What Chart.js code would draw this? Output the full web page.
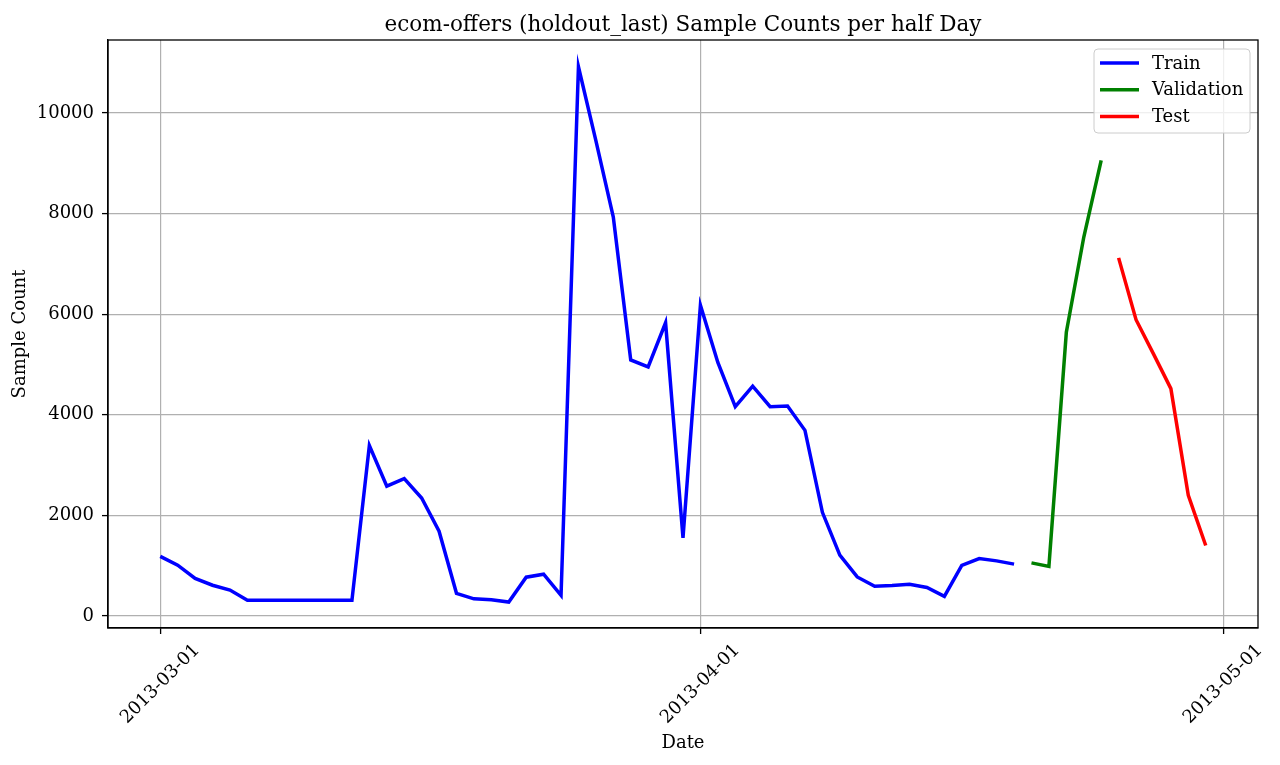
<!DOCTYPE html>
<html>
<head>
<meta charset="utf-8">
<script src="https://cdn.jsdelivr.net/npm/chart.js@4.4.0/dist/chart.umd.min.js"></script>
<style>
  html, body { margin: 0; padding: 0; background: #fff; }
  #grafico { display: block; }
</style>
</head>
<body>
<canvas id="grafico" width="1280" height="765"></canvas>
<script>
// Datos (un punto por día)
const titulo = 'ecom-offers (holdout_last) Sample Counts per half Day';
const fechaBase = '2013-03-01';

const inicioTrain = '2013-03-01';
const valoresTrain = [
  1185, 1010, 745, 610, 515, 310, 310, 310, 310, 310, 310, 310,
  3390, 2580, 2730, 2345, 1685, 450, 340, 320, 275, 770, 830, 410,
  10920, 9450, 7930, 5090, 4950, 5830, 1550,
  6180, 5040, 4160, 4570, 4160, 4175, 3690, 2060, 1210, 775, 590,
  605, 630, 565, 390, 1005, 1140, 1095, 1030
];

const inicioValidation = '2013-04-20';
const valoresValidation = [1055, 985, 5640, 7530, 9060];

const inicioTest = '2013-04-25';
const valoresTest = [7120, 5890, 5210, 4520, 2400, 1400];

const etiquetasX = ['2013-03-01', '2013-04-01', '2013-05-01'];
const ticksY = [0, 2000, 4000, 6000, 8000, 10000];

const series = [
  { nombre: 'Train', inicio: inicioTrain, valores: valoresTrain, color: '#0000ff' },
  { nombre: 'Validation', inicio: inicioValidation, valores: valoresValidation, color: '#008000' },
  { nombre: 'Test', inicio: inicioTest, valores: valoresTest, color: '#ff0000' }
];

const FUENTE = "'DejaVu Serif', serif";
const TAM = 18;

// Días transcurridos desde la fecha base
function diaDesdeBase(fecha) {
  return (Date.parse(fecha + 'T00:00:00Z') - Date.parse(fechaBase + 'T00:00:00Z')) / 86400000;
}

function puntosSerie(s) {
  const d0 = diaDesdeBase(s.inicio);
  return s.valores.map((v, i) => ({ x: d0 + i, y: v }));
}

// Textos, marco y leyenda al estilo matplotlib
const pluginTextos = {
  id: 'textos',
  afterDraw(chart) {
    const { ctx, chartArea: area, scales } = chart;
    ctx.save();

    ctx.strokeStyle = '#000';
    ctx.lineWidth = 1.3;
    ctx.strokeRect(area.left, area.top, area.right - area.left, area.bottom - area.top);

    ctx.fillStyle = '#000';
    ctx.font = '21.5px ' + FUENTE;
    ctx.textAlign = 'center';
    ctx.textBaseline = 'alphabetic';
    ctx.fillText(titulo, (area.left + area.right) / 2, 31);

    // etiquetas del eje x, giradas 45 grados y centradas en la marca
    ctx.font = TAM + 'px ' + FUENTE;
    etiquetasX.forEach(et => {
      const px = scales.x.getPixelForValue(diaDesdeBase(et));
      ctx.save();
      ctx.translate(px, area.bottom + 56);
      ctx.rotate(-Math.PI / 4);
      ctx.textAlign = 'center';
      ctx.textBaseline = 'middle';
      ctx.fillText(et, 0, 0);
      ctx.restore();
    });

    // leyenda
    const lx = 1094, ly = 49, lw = 156, lh = 84;
    ctx.beginPath();
    ctx.roundRect(lx, ly, lw, lh, 4);
    ctx.fillStyle = 'rgba(255,255,255,0.8)';
    ctx.fill();
    ctx.strokeStyle = '#cccccc';
    ctx.lineWidth = 1;
    ctx.stroke();

    chart.data.datasets.forEach((ds, i) => {
      const y = 63 + i * 26.7;
      ctx.beginPath();
      ctx.moveTo(1100, y);
      ctx.lineTo(1139, y);
      ctx.strokeStyle = ds.borderColor;
      ctx.lineWidth = 3.5;
      ctx.stroke();
      ctx.fillStyle = '#000';
      ctx.textAlign = 'left';
      ctx.textBaseline = 'middle';
      ctx.fillText(ds.label, 1152, y + 1);
    });

    ctx.restore();
  }
};

const ctx = document.getElementById('grafico').getContext('2d');

new Chart(ctx, {
  type: 'line',
  data: {
    datasets: series.map(s => ({
      label: s.nombre,
      data: puntosSerie(s),
      borderColor: s.color,
      backgroundColor: s.color,
      borderWidth: 3.5,
      pointRadius: 0,
      tension: 0,
      fill: false
    }))
  },
  options: {
    responsive: false,
    animation: false,
    devicePixelRatio: 1,
    layout: { padding: { left: 0, right: 22, top: 40, bottom: 0 } },
    plugins: {
      legend: { display: false },
      tooltip: { enabled: false }
    },
    scales: {
      x: {
        type: 'linear',
        min: -3,
        max: 63,
        afterBuildTicks: s => { s.ticks = etiquetasX.map(et => ({ value: diaDesdeBase(et) })); },
        afterFit: s => { s.height = 137; },
        ticks: { display: false },
        grid: { color: '#b0b0b0', lineWidth: 1.2, tickColor: '#000', tickLength: 6, tickWidth: 1.3 },
        border: { color: '#000', width: 1.3 },
        title: {
          display: true,
          text: 'Date',
          color: '#000',
          font: { family: FUENTE, size: TAM },
          padding: { top: 0, bottom: 11 }
        }
      },
      y: {
        type: 'linear',
        min: -240,
        max: 11452,
        afterBuildTicks: s => { s.ticks = ticksY.map(v => ({ value: v })); },
        afterFit: s => { s.width = 108; },
        ticks: {
          callback: v => String(v),
          color: '#000',
          font: { family: FUENTE, size: TAM },
          padding: 8
        },
        grid: { color: '#b0b0b0', lineWidth: 1.2, tickColor: '#000', tickLength: 6, tickWidth: 1.3 },
        border: { color: '#000', width: 1.3 },
        title: {
          display: true,
          text: 'Sample Count',
          color: '#000',
          font: { family: FUENTE, size: TAM },
          padding: { top: 10, bottom: 0 }
        }
      }
    }
  },
  plugins: [pluginTextos]
});
</script>
</body>
</html>
